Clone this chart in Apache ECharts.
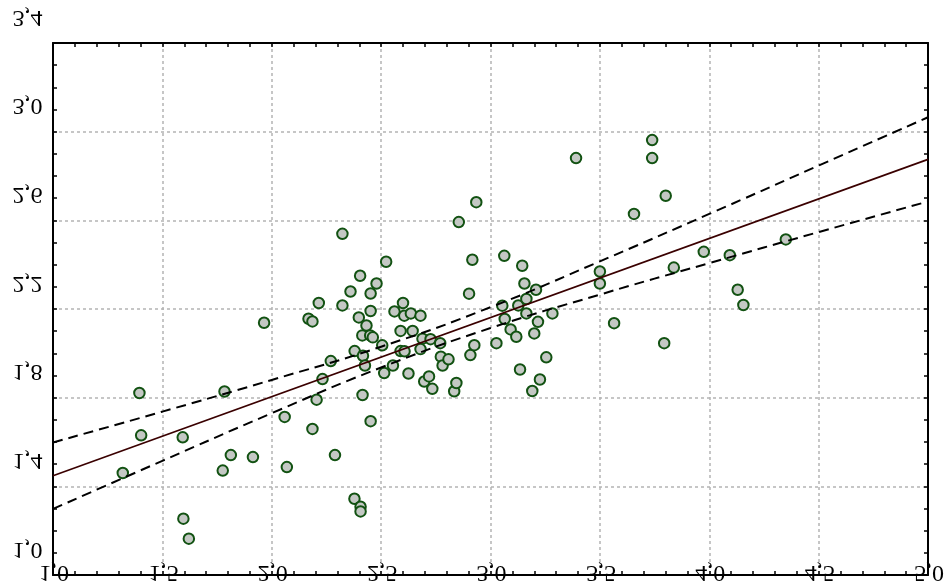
<!DOCTYPE html>
<html><head><meta charset="utf-8">
<script src="https://cdn.jsdelivr.net/npm/echarts@6/dist/echarts.min.js"></script>
<style>html,body{margin:0;padding:0;background:#fff}#c{width:948px;height:587px}</style>
</head><body><div id="c"></div>
<script>
const xVals = [1.319,1.395,1.403,1.593,1.596,1.621,1.776,1.784,1.813,1.914,
1.965,2.059,2.069,2.168,2.186,2.186,2.205,2.215,2.232,2.270,
2.289,2.323,2.323,2.360,2.379,2.378,2.398,2.404,2.417,2.406,
2.406,2.414,2.415,2.426,2.433,2.452,2.450,2.462,2.452,2.452,
2.479,2.505,2.514,2.523,2.554,2.561,2.589,2.589,2.600,2.606,
2.607,2.625,2.636,2.644,2.680,2.689,2.680,2.697,2.719,2.726,
2.734,2.770,2.773,2.781,2.808,2.834,2.844,2.855,2.902,2.908,
2.917,2.926,2.935,3.027,3.054,3.063,3.065,3.092,3.118,3.127,
3.135,3.145,3.155,3.164,3.164,3.191,3.200,3.208,3.217,3.226,
3.255,3.283,3.391,3.500,3.500,3.565,3.656,3.739,3.739,3.794,
3.801,3.838,3.975,4.094,4.130,4.156,4.350];
const yVals = [1.460,1.821,1.630,1.621,1.254,1.164,1.471,1.828,1.541,1.532,
2.138,1.713,1.487,2.156,2.144,1.659,1.791,2.227,1.884,1.965,
1.541,2.539,2.216,2.279,2.010,1.344,2.162,2.350,1.989,1.308,
1.287,2.081,1.812,1.945,2.126,2.270,2.081,2.072,1.694,2.191,
2.315,2.036,1.911,2.413,1.945,2.189,2.101,2.010,2.227,2.170,
2.009,1.909,2.180,2.101,2.170,2.066,2.019,1.873,1.896,2.064,
1.840,2.046,1.985,1.945,1.973,1.829,1.866,2.592,2.269,1.992,
2.422,2.037,2.682,2.046,2.215,2.440,2.155,2.108,2.075,2.216,
1.927,2.395,2.315,2.245,2.180,1.830,2.090,2.287,2.142,1.882,
1.982,2.180,2.881,2.369,2.315,2.136,2.629,2.962,2.881,2.046,
2.711,2.387,2.458,2.443,2.287,2.218,2.514];

const fitX = [1.0, 5.0];
const fitY = [1.448, 2.875];

const bandX = [1.0, 1.5, 2.0, 2.5, 3.0, 3.5, 4.0, 4.5, 5.0];
const bandUpper = [1.598, 1.737, 1.880, 2.030, 2.208, 2.415, 2.629, 2.847, 3.065];
const bandLower = [1.298, 1.515, 1.730, 1.936, 2.114, 2.265, 2.407, 2.547, 2.685];

const xTickValues = [1.0, 1.5, 2.0, 2.5, 3.0, 3.5, 4.0, 4.5, 5.0];
const xTickLabels = ['1,0','1,5','2,0','2,5','3,0','3,5','4,0','4,5','5,0'];
const yTickValues = [1.0, 1.4, 1.8, 2.2, 2.6, 3.0, 3.4];
const yTickLabels = ['1,0','1,4','1,8','2,2','2,6','3,0','3,4'];

const chart = echarts.init(document.getElementById('c'), null, {renderer: 'canvas'});

function axisBase(isX, main) {
  return {
    type: 'value',
    min: 1.0,
    max: isX ? 5.0 : 3.4,
    interval: isX ? 0.5 : 0.4,
    axisLine: {show: true, onZero: false, lineStyle: {color: '#000', width: 2}},
    axisTick: {show: true, inside: true, length: 4, lineStyle: {color: '#000', width: 1.5}},
    minorTick: {show: true, splitNumber: isX ? 5 : 4, length: 4, lineStyle: {color: '#000', width: 1.5}},
    axisLabel: {show: false},
    splitLine: main ? {show: true, lineStyle: {color: '#b4b4b4', width: 1.5, type: [3, 3]}} : {show: false},
    minorSplitLine: {show: false}
  };
}

const pairs = (xs, ys) => xs.map((x, i) => [x, ys[i]]);

chart.setOption({
  animation: false,
  backgroundColor: '#fff',
  grid: {left: 53, right: 20, top: 43, bottom: 12, containLabel: false},
  xAxis: [
    Object.assign(axisBase(true, true), {position: 'bottom'}),
    Object.assign(axisBase(true, false), {position: 'top'})
  ],
  yAxis: [
    Object.assign(axisBase(false, true), {position: 'left'}),
    Object.assign(axisBase(false, false), {position: 'right'})
  ],
  series: [
    {
      type: 'scatter',
      data: pairs(xVals, yVals),
      symbol: 'circle',
      symbolSize: 10.5,
      itemStyle: {color: '#c4c8c4', borderColor: '#125212', borderWidth: 2, opacity: 1},
      z: 2
    },
    {
      type: 'line',
      data: pairs(fitX, fitY),
      symbol: 'none',
      lineStyle: {color: '#3a0000', width: 1.6},
      z: 4
    },
    {
      type: 'line',
      data: pairs(bandX, bandUpper),
      symbol: 'none',
      smooth: true,
      lineStyle: {color: '#000', width: 2, type: [10, 6]},
      z: 3
    },
    {
      type: 'line',
      data: pairs(bandX, bandLower),
      symbol: 'none',
      smooth: true,
      lineStyle: {color: '#000', width: 2, type: [10, 6]},
      z: 3
    }
  ]
});

const font = '24px "Liberation Serif", "Times New Roman", serif';
const graphics = [];
xTickValues.forEach((v, i) => {
  const px = chart.convertToPixel({xAxisIndex: 0}, v);
  graphics.push({
    type: 'text', x: px + 1, y: 572, scaleY: -1, z: 10,
    style: {text: xTickLabels[i], font: font, fill: '#000',
            align: 'center', verticalAlign: 'middle', textAlign: 'center', textVerticalAlign: 'middle'}
  });
});
yTickValues.forEach((v, i) => {
  const py = chart.convertToPixel({yAxisIndex: 0}, v);
  graphics.push({
    type: 'text', x: 42.5, y: py - 26, scaleY: -1, z: 10,
    style: {text: yTickLabels[i], font: font, fill: '#000',
            align: 'right', verticalAlign: 'middle', textAlign: 'right', textVerticalAlign: 'middle'}
  });
});
chart.setOption({graphic: {elements: graphics}});
</script>
</body></html>
